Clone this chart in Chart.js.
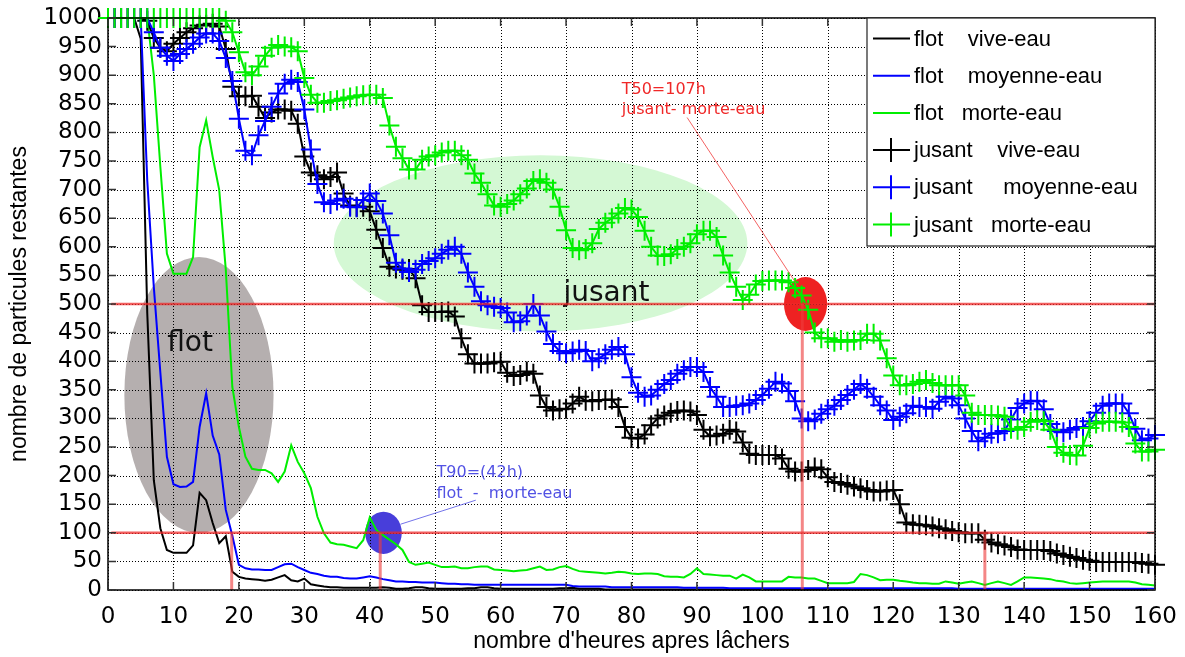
<!DOCTYPE html>
<html><head><meta charset="utf-8">
<script src="https://cdn.jsdelivr.net/npm/chart.js@4.4.1/dist/chart.umd.min.js"></script>
<style>html,body{margin:0;padding:0;background:#fff;overflow:hidden;}</style>
</head><body>
<canvas id="c" width="1185" height="657"></canvas>
<script>
// ---- categories / ticks ----
const HOURS = Array.from({length: 161}, (_, i) => i);
const X_TICKS = [0,10,20,30,40,50,60,70,80,90,100,110,120,130,140,150,160];
const Y_TICKS = [0,50,100,150,200,250,300,350,400,450,500,550,600,650,700,750,800,850,900,950,1000];
const SERIES_LABELS = ['flot    vive-eau','flot    moyenne-eau','flot   morte-eau','jusant    vive-eau','jusant     moyenne-eau','jusant   morte-eau'];

// ---- series values (one per hour, 0..160) ----
const flotVive = [1000,1000,1000,1000,1000,964,484,192,108,70,
65,65,65,78,170,157,117,82,94,32,
23,20,19,18,16,18,22,26,17,15,
20,10,8,6,5,5,4,4,4,4,
4,4,5,4,2,2,3,5,5,3,
2,2,2,2,2,3,3,5,5,3,
2,2,2,2,2,2,2,2,2,3,
3,4,2,2,2,2,1,1,1,1,
1,1,1,1,1,1,1,1,1,1,
1,1,1,1,1,1,1,1,1,1,
1,1,1,1,1,1,1,1,1,1,
1,1,1,1,1,1,1,1,1,1,
1,1,1,1,1,1,1,1,1,1,
1,1,1,1,1,1,1,1,1,1,
1,1,1,1,1,1,1,1,1,1,
1,1,1,1,1,1,1,1,1,1,
1];
const flotMoyenne = [1000,1000,1000,1000,1000,1000,716,530,380,233,
185,180,181,189,285,344,270,237,140,95,
44,38,36,36,35,35,40,45,46,40,
35,30,28,25,23,23,21,20,20,22,
24,22,19,17,15,15,14,14,13,13,
13,12,11,11,10,10,9,9,9,9,
9,9,9,9,9,9,9,9,9,9,
9,7,6,6,6,6,6,5,5,5,
5,5,5,5,5,5,5,5,4,4,
4,4,4,4,4,3,3,3,3,3,
3,3,3,3,3,3,3,3,3,3,
3,3,3,3,3,3,3,3,3,3,
3,3,3,3,3,3,3,3,3,3,
2,2,2,2,2,2,2,2,2,2,
2,2,2,2,2,2,2,2,2,2,
2,2,2,2,2,2,2,2,2,2,
2];
const flotMorte = [1000,1000,1000,1000,1000,1000,1000,900,740,588,
553,553,553,582,774,821,757,699,560,355,
285,233,212,210,210,204,189,207,253,224,
204,178,128,99,83,80,79,76,73,87,
127,105,96,88,80,70,49,44,46,48,
44,40,40,41,38,38,40,41,41,36,
35,34,33,34,35,38,41,35,36,40,
42,37,33,32,31,30,29,30,32,31,
29,28,29,29,28,24,23,23,22,28,
38,28,27,26,25,25,20,27,22,15,
15,15,15,15,23,22,22,20,20,16,
12,12,12,12,14,28,26,22,17,18,
18,16,15,13,12,12,11,11,15,13,
11,13,15,12,9,12,15,12,9,15,
22,22,21,20,19,16,15,12,11,12,
13,14,15,15,15,15,15,13,10,9,
8];
const jusantVive = [1000,1000,1000,1000,1000,1000,995,965,948,942,
955,965,975,982,987,988,990,985,946,880,
863,863,864,845,825,835,840,840,838,815,
758,730,725,718,722,730,693,672,670,670,
662,630,598,565,562,560,561,545,498,486,
486,486,487,478,440,412,396,396,396,398,
399,380,374,376,382,378,340,320,314,316,
317,326,338,331,330,332,332,333,320,285,
266,265,272,288,300,305,310,313,314,312,
306,280,269,270,273,280,277,258,238,236,
236,236,236,230,212,207,207,210,214,211,
197,189,187,184,181,178,175,172,172,174,
175,150,118,115,114,113,111,108,106,103,
101,99,99,99,88,83,80,78,75,71,
70,70,70,70,68,64,61,58,56,53,
51,49,49,49,49,49,49,49,47,46,
44];
const jusantMoyenne = [1000,1000,1000,1000,1000,1000,1000,975,948,934,
925,937,946,955,966,973,973,960,930,890,
824,768,760,795,820,845,868,885,892,888,
840,770,710,678,675,681,684,670,669,682,
693,680,658,620,572,562,556,560,570,575,
580,588,595,600,588,555,530,505,498,495,
493,485,468,470,480,500,480,452,430,418,
414,417,420,418,400,405,412,420,425,412,
372,345,338,340,350,360,367,378,384,390,
390,381,355,338,320,320,322,323,326,332,
341,352,364,361,348,330,300,295,298,308,
316,322,332,341,350,360,352,338,323,314,
297,303,309,322,320,320,317,329,338,335,
323,300,278,260,266,273,274,278,298,318,
326,331,330,316,290,278,276,280,283,285,
295,310,322,326,326,326,309,282,262,265,
271];
const jusantMorte = [1000,1000,1000,1000,1000,1000,1000,1000,1000,1000,
1000,1000,1000,1000,1000,1000,1000,1000,995,975,
940,905,900,915,934,948,953,950,949,942,
895,866,852,852,855,856,859,861,863,865,
866,866,860,812,775,755,735,735,752,758,
760,765,768,768,760,752,728,712,692,672,
670,675,681,692,702,715,718,712,700,670,
629,598,594,596,606,631,642,650,658,668,
665,652,628,600,585,584,587,596,600,606,
622,628,628,617,585,555,530,507,516,534,
540,541,541,541,538,528,515,490,450,440,
440,434,437,434,436,437,448,448,436,405,
375,358,358,360,364,367,362,358,358,358,
358,340,310,306,306,306,305,303,282,280,
285,294,297,295,280,250,240,236,235,252,
283,291,294,294,294,293,285,256,242,242,
245];

// ---- annotations (data coordinates) ----
const ZONES = [
  {cx: 13.9, cy: 341, rx: 11.4, ry: 241, color: 'rgb(181,175,175)'},
  {cx: 66.1, cy: 606, rx: 31.6, ry: 154, color: 'rgb(212,248,212)'},
  {cx: 106.6, cy: 500, rx: 3.3, ry: 47, color: 'rgb(238,34,34)'},
  {cx: 42.1, cy: 100, rx: 2.8, ry: 37, color: 'rgb(72,62,218)'}
];
const THRESH_H = [500, 100];
const THRESH_V = [[18.9, 100], [41.6, 100], [106.1, 500], [134.0, 100]];

const COLORS = ['#000000', '#0000ff', '#00ee00', '#000000', '#0000ff', '#00ee00'];
const ALL = [flotVive, flotMoyenne, flotMorte, jusantVive, jusantMoyenne, jusantMorte];

const datasets = ALL.map((arr, i) => ({
  label: SERIES_LABELS[i],
  data: arr,
  borderColor: COLORS[i],
  backgroundColor: COLORS[i],
  borderWidth: 2,
  pointStyle: 'cross',
  pointRadius: i >= 3 ? 10 : 0,
  pointBorderWidth: 2,
  pointBorderColor: COLORS[i],
  pointHoverRadius: i >= 3 ? 10 : 0,
  tension: 0,
  clip: false,
  order: 5 - i
}));

const deco = {
  id: 'deco',
  beforeDatasetsDraw(chart) {
    const {ctx, chartArea: a, scales: {x, y}} = chart;
    ctx.save();
    ZONES.forEach(z => {
      const px = x.getPixelForValue(z.cx), py = y.getPixelForValue(z.cy);
      const rx = Math.abs(x.getPixelForValue(z.cx + z.rx) - px);
      const ry = Math.abs(y.getPixelForValue(z.cy + z.ry) - py);
      ctx.fillStyle = z.color;
      ctx.beginPath(); ctx.ellipse(px, py, rx, ry, 0, 0, Math.PI * 2); ctx.fill();
    });
    // dotted grid
    ctx.strokeStyle = '#000';
    ctx.lineWidth = 1;
    ctx.setLineDash([1, 2]);
    ctx.beginPath();
    X_TICKS.forEach(v => {
      const p = Math.round(x.getPixelForValue(v)) + 0.5;
      ctx.moveTo(p, a.top); ctx.lineTo(p, a.bottom);
    });
    Y_TICKS.forEach(v => {
      const p = Math.round(y.getPixelForValue(v)) + 0.5;
      ctx.moveTo(a.left, p); ctx.lineTo(a.right, p);
    });
    ctx.stroke();
    ctx.setLineDash([]);
    ctx.fillStyle = '#111';
    ctx.font = '28px "DejaVu Sans"';
    ctx.textBaseline = 'alphabetic';
    ctx.fillText('flot', x.getPixelForValue(9.05), y.getPixelForValue(417));
    ctx.fillText('jusant', x.getPixelForValue(69.6), y.getPixelForValue(506));
    ctx.restore();
  },
  afterDatasetsDraw(chart) {
    const {ctx, chartArea: a, scales: {x, y}} = chart;
    ctx.save();
    // threshold lines
    ctx.strokeStyle = 'rgba(238,40,40,0.75)';
    ctx.lineWidth = 2.5;
    THRESH_H.forEach(v => {
      ctx.beginPath();
      ctx.moveTo(x.getPixelForValue(0.5), y.getPixelForValue(v));
      ctx.lineTo(x.getPixelForValue(160), y.getPixelForValue(v));
      ctx.stroke();
    });
    ctx.strokeStyle = 'rgba(238,60,60,0.62)';
    ctx.lineWidth = 3;
    THRESH_V.forEach(([xv, top]) => {
      ctx.beginPath();
      ctx.moveTo(x.getPixelForValue(xv), y.getPixelForValue(top));
      ctx.lineTo(x.getPixelForValue(xv), y.getPixelForValue(0));
      ctx.stroke();
    });
    // pointer lines + notes
    ctx.lineWidth = 1;
    ctx.strokeStyle = 'rgba(240,60,60,0.8)';
    ctx.beginPath();
    ctx.moveTo(x.getPixelForValue(88.5), y.getPixelForValue(826));
    ctx.lineTo(x.getPixelForValue(105.5), y.getPixelForValue(530));
    ctx.stroke();
    ctx.strokeStyle = 'rgba(90,90,230,0.85)';
    ctx.beginPath();
    ctx.moveTo(x.getPixelForValue(56.2), y.getPixelForValue(157));
    ctx.lineTo(x.getPixelForValue(44.7), y.getPixelForValue(115));
    ctx.stroke();
    ctx.font = '16px "DejaVu Sans"';
    ctx.textBaseline = 'alphabetic';
    ctx.fillStyle = 'rgb(240,40,40)';
    ctx.fillText('T50=107h', x.getPixelForValue(78.5), y.getPixelForValue(868));
    ctx.fillText('jusant- morte-eau', x.getPixelForValue(78.5), y.getPixelForValue(833));
    ctx.fillStyle = 'rgb(82,82,228)';
    ctx.fillText('T90=(42h)', x.getPixelForValue(50.2), y.getPixelForValue(198));
    ctx.fillText('flot  -  morte-eau', x.getPixelForValue(50.2), y.getPixelForValue(160));
    // frame and inner ticks
    ctx.strokeStyle = '#000';
    ctx.lineWidth = 1.5;
    ctx.strokeRect(a.left, a.top, a.right - a.left, a.bottom - a.top);
    ctx.strokeStyle = '#333';
    ctx.lineWidth = 1.5;
    ctx.beginPath();
    X_TICKS.forEach(v => {
      const p = x.getPixelForValue(v);
      ctx.moveTo(p, a.bottom); ctx.lineTo(p, a.bottom - 8);
      ctx.moveTo(p, a.top); ctx.lineTo(p, a.top + 8);
    });
    Y_TICKS.forEach(v => {
      const p = y.getPixelForValue(v);
      ctx.moveTo(a.left, p); ctx.lineTo(a.left + 8, p);
      ctx.moveTo(a.right, p); ctx.lineTo(a.right - 8, p);
    });
    ctx.stroke();
    ctx.restore();
  },
  afterDraw(chart) {
    const {ctx, chartArea: a} = chart;
    const w = 288, h = 228;
    const L = a.right - w, T = a.top;
    ctx.save();
    ctx.fillStyle = '#fff';
    ctx.fillRect(L, T, w, h);
    ctx.strokeStyle = '#222';
    ctx.lineWidth = 1.2;
    ctx.strokeRect(L, T, w, h);
    ctx.font = '22px "Liberation Sans"';
    ctx.textBaseline = 'middle';
    chart.data.datasets.forEach((ds, i) => {
      const cy = T + 20.5 + i * 37.2;
      ctx.strokeStyle = ds.borderColor;
      ctx.lineWidth = 2;
      ctx.beginPath(); ctx.moveTo(L + 6, cy); ctx.lineTo(L + 43, cy); ctx.stroke();
      if (i >= 3) {
        ctx.beginPath(); ctx.moveTo(L + 24, cy - 12); ctx.lineTo(L + 24, cy + 12); ctx.stroke();
      }
      ctx.fillStyle = '#000';
      ctx.fillText(ds.label, L + 47, cy + 1);
    });
    ctx.restore();
  }
};

new Chart(document.getElementById('c'), {
  type: 'line',
  data: {labels: HOURS, datasets},
  options: {
    responsive: false,
    animation: false,
    devicePixelRatio: 1,
    layout: {padding: {top: 18, right: 30, left: 0, bottom: 0}},
    plugins: {legend: {display: false}, tooltip: {enabled: false}},
    scales: {
      x: {
        type: 'linear', min: 0, max: 160,
        afterBuildTicks: s => { s.ticks = X_TICKS.map(v => ({value: v})); },
        afterFit: s => { s.height = 67; s.paddingLeft = 0; s.paddingRight = 0; },
        ticks: {color: '#000', font: {family: 'DejaVu Sans', size: 23}, padding: 13, maxRotation: 0, autoSkip: false,
                callback: v => String(v)},
        grid: {display: false, drawTicks: false},
        border: {display: false},
        title: {display: true, text: "nombre d'heures apres lâchers", color: '#000',
                font: {family: 'Liberation Sans', size: 23}, padding: {top: 0, bottom: 2}}
      },
      y: {
        min: 0, max: 1000,
        afterBuildTicks: s => { s.ticks = Y_TICKS.map(v => ({value: v})); },
        afterFit: s => { s.width = 108; s.paddingTop = 0; s.paddingBottom = 0; },
        ticks: {color: '#000', font: {family: 'DejaVu Sans', size: 23}, padding: 6, autoSkip: false,
                callback: v => String(v)},
        grid: {display: false, drawTicks: false},
        border: {display: false},
        title: {display: true, text: 'nombre de particules restantes', color: '#000',
                font: {family: 'Liberation Sans', size: 23}, padding: {top: 6, bottom: 0}}
      }
    }
  },
  plugins: [deco]
});
</script>
</body></html>
